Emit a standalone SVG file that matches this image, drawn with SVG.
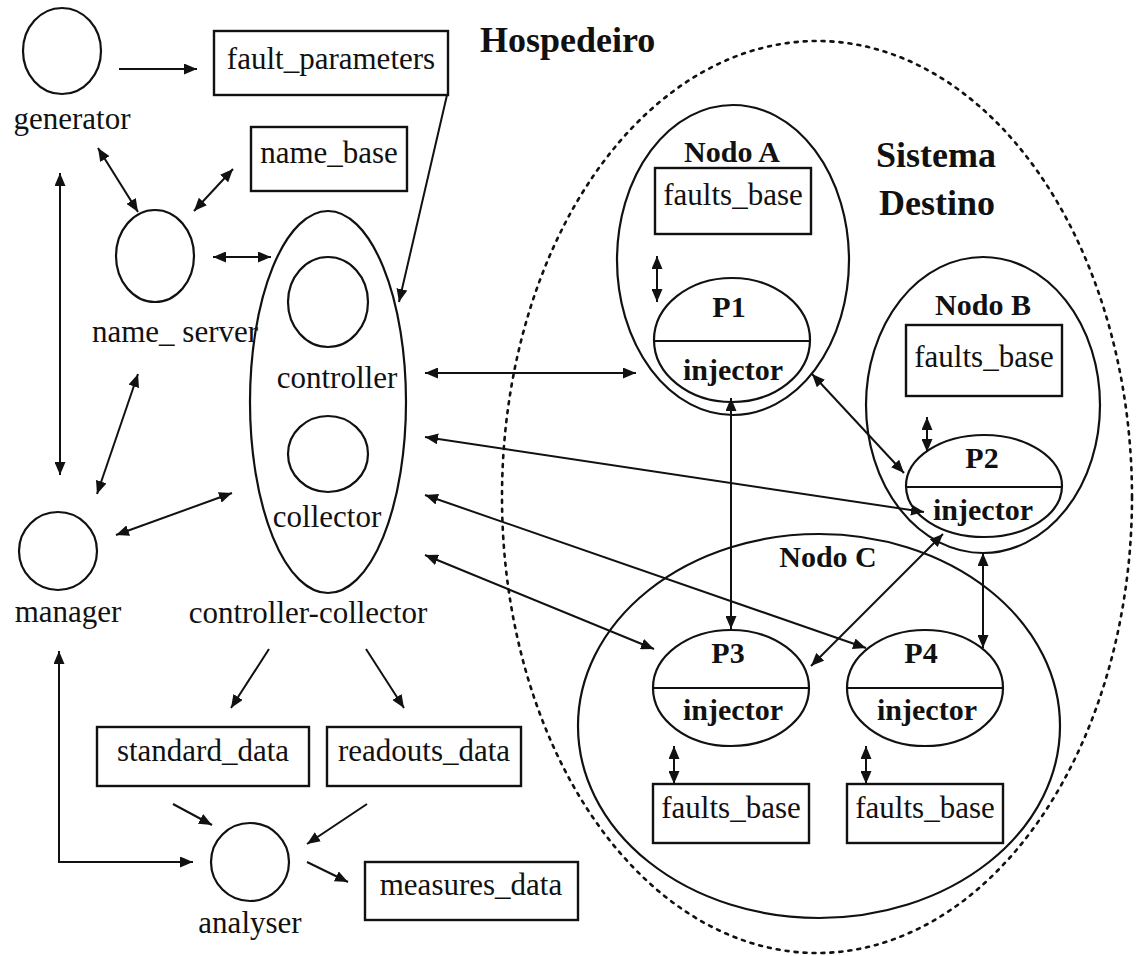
<svg xmlns="http://www.w3.org/2000/svg" width="1136" height="956" viewBox="0 0 1136 956">
  <style>
    .shape { fill: none; stroke: #111; stroke-width: 2.2; }
    .box { fill: none; stroke: #111; stroke-width: 2.4; }
    .txt { font-family: "Liberation Serif", "Times New Roman", serif; font-size: 31px; fill: #111; text-anchor: middle; }
    .bold { font-family: "Liberation Serif", "Times New Roman", serif; font-weight: bold; font-size: 30px; fill: #111; text-anchor: middle; }
    .title { font-family: "Liberation Serif", "Times New Roman", serif; font-weight: bold; font-size: 36px; fill: #111; }
    .link { fill: none; stroke: #111; stroke-width: 2; }
    .one { marker-end: url(#head); }
    .two { marker-start: url(#head); marker-end: url(#head); }
    .dotted { fill: none; stroke: #111; stroke-width: 2.6; stroke-dasharray: 3 6; stroke-linecap: round; }
  </style>
  <defs>
    <marker id="head" markerUnits="userSpaceOnUse" markerWidth="13" markerHeight="11" refX="13" refY="5.5" orient="auto-start-reverse">
      <path d="M0,0 L13,5.5 L0,11 z" fill="#111"/>
    </marker>
  </defs>
  <rect width="1136" height="956" fill="#fff"/>

  <!-- target system boundary -->
  <g id="sistema-destino">
    <ellipse class="dotted" cx="817" cy="497" rx="315" ry="456"/>
    <text class="title" x="876" y="167">Sistema</text>
    <text class="title" x="879" y="215">Destino</text>
  </g>

  <g id="hospedeiro">
    <text class="title" x="480" y="52">Hospedeiro</text>
  </g>

  <g id="generator">
    <ellipse class="shape" cx="62" cy="51" rx="39" ry="43"/>
    <text class="txt" x="72" y="129">generator</text>
  </g>

  <g id="fault_parameters">
    <rect class="box" x="214" y="31" width="234" height="64"/>
    <text class="txt" x="331" y="69">fault_parameters</text>
  </g>

  <g id="name_base">
    <rect class="box" x="251" y="127" width="156" height="64"/>
    <text class="txt" x="329" y="163">name_base</text>
  </g>

  <g id="name_server">
    <ellipse class="shape" cx="155" cy="256" rx="39" ry="46"/>
    <text class="txt" x="175" y="342">name_ server</text>
  </g>

  <g id="controller-collector">
    <ellipse class="shape" cx="328" cy="402" rx="78" ry="191"/>
    <ellipse class="shape" cx="328" cy="302" rx="40" ry="45"/>
    <text class="txt" x="337" y="388">controller</text>
    <ellipse class="shape" cx="328" cy="454" rx="40" ry="38"/>
    <text class="txt" x="327" y="527">collector</text>
    <text class="txt" x="308" y="623">controller-collector</text>
  </g>

  <g id="manager">
    <circle class="shape" cx="58" cy="551" r="39"/>
    <text class="txt" x="68" y="622">manager</text>
  </g>

  <g id="standard_data">
    <rect class="box" x="97" y="727" width="212" height="59"/>
    <text class="txt" x="203" y="761">standard_data</text>
  </g>

  <g id="readouts_data">
    <rect class="box" x="327" y="727" width="194" height="59"/>
    <text class="txt" x="424" y="761">readouts_data</text>
  </g>

  <g id="analyser">
    <circle class="shape" cx="250" cy="862" r="39"/>
    <text class="txt" x="250" y="933">analyser</text>
  </g>

  <g id="measures_data">
    <rect class="box" x="365" y="862" width="213" height="58"/>
    <text class="txt" x="471" y="895">measures_data</text>
  </g>

  <g id="nodo-a">
    <ellipse class="shape" cx="733" cy="260" rx="116" ry="155"/>
    <text class="bold" x="732" y="162">Nodo A</text>
    <rect class="box" x="655" y="168" width="156" height="66"/>
    <text class="txt" x="733" y="205">faults_base</text>
    <ellipse class="shape" cx="732" cy="340" rx="78" ry="62"/>
    <line class="shape" x1="654" y1="341" x2="810" y2="341"/>
    <text class="bold" x="729" y="317">P1</text>
    <text class="bold" x="733" y="380">injector</text>
  </g>

  <g id="nodo-b">
    <ellipse class="shape" cx="983" cy="405" rx="117" ry="148"/>
    <text class="bold" x="983" y="315">Nodo B</text>
    <rect class="box" x="906" y="325" width="156" height="71"/>
    <text class="txt" x="984" y="367">faults_base</text>
    <ellipse class="shape" cx="984" cy="486" rx="78" ry="51"/>
    <line class="shape" x1="906" y1="487" x2="1062" y2="487"/>
    <text class="bold" x="982" y="468">P2</text>
    <text class="bold" x="983" y="520">injector</text>
  </g>

  <g id="nodo-c">
    <ellipse class="shape" cx="819" cy="726" rx="241" ry="192"/>
    <text class="bold" x="828" y="567">Nodo C</text>
    <ellipse class="shape" cx="731" cy="688" rx="78" ry="58"/>
    <line class="shape" x1="653" y1="688" x2="809" y2="688"/>
    <text class="bold" x="728" y="663">P3</text>
    <text class="bold" x="733" y="720">injector</text>
    <ellipse class="shape" cx="925" cy="688" rx="78" ry="58"/>
    <line class="shape" x1="847" y1="688" x2="1003" y2="688"/>
    <text class="bold" x="921" y="663">P4</text>
    <text class="bold" x="927" y="720">injector</text>
    <rect class="box" x="653" y="784" width="156" height="59"/>
    <text class="txt" x="731" y="818">faults_base</text>
    <rect class="box" x="847" y="784" width="156" height="59"/>
    <text class="txt" x="925" y="818">faults_base</text>
  </g>

  <g id="connectors">
    <line class="link one" x1="119" y1="69" x2="197" y2="69"/>
    <line class="link two" x1="98" y1="148" x2="138" y2="212"/>
    <line class="link two" x1="194" y1="211" x2="233" y2="169"/>
    <line class="link two" x1="213" y1="257" x2="271" y2="257"/>
    <line class="link one" x1="447" y1="95" x2="399" y2="302"/>
    <line class="link two" x1="60" y1="173" x2="60" y2="475"/>
    <line class="link two" x1="138" y1="374" x2="97" y2="494"/>
    <line class="link two" x1="116" y1="535" x2="232" y2="493"/>
    <line class="link two" x1="425" y1="373" x2="636" y2="373"/>
    <line class="link two" x1="425" y1="437" x2="924" y2="512"/>
    <line class="link two" x1="425" y1="495" x2="866" y2="648"/>
    <line class="link two" x1="425" y1="555" x2="654" y2="649"/>
    <line class="link two" x1="731" y1="398" x2="731" y2="629"/>
    <line class="link two" x1="812" y1="374" x2="904" y2="473"/>
    <line class="link two" x1="943" y1="534" x2="811" y2="666"/>
    <line class="link two" x1="983" y1="553" x2="983" y2="648"/>
    <line class="link two" x1="657" y1="256" x2="657" y2="302"/>
    <line class="link two" x1="927" y1="417" x2="927" y2="452"/>
    <line class="link two" x1="674" y1="746" x2="674" y2="784"/>
    <line class="link two" x1="866" y1="746" x2="866" y2="784"/>
    <line class="link one" x1="269" y1="649" x2="231" y2="708"/>
    <line class="link one" x1="366" y1="649" x2="404" y2="708"/>
    <line class="link one" x1="173" y1="804" x2="212" y2="825"/>
    <line class="link one" x1="367" y1="804" x2="307" y2="844"/>
    <path class="link two" d="M59,651 V862 H193"/>
    <line class="link one" x1="307" y1="862" x2="348" y2="882"/>
  </g>
</svg>
